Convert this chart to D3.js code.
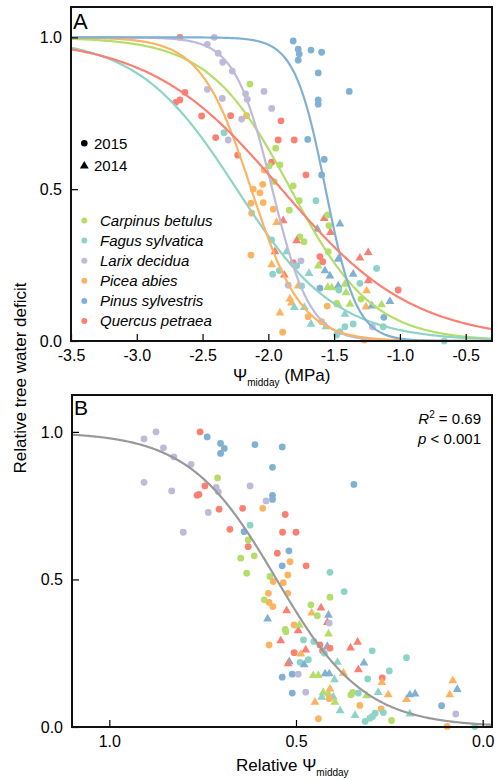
<!DOCTYPE html>
<html>
<head>
<meta charset="utf-8">
<script src="https://cdn.jsdelivr.net/npm/d3@7"></script>
<style>
  body { margin: 0; background: #fff; }
  svg { display: block; font-family: "Liberation Sans", Arial, Helvetica, sans-serif; }
</style>
</head>
<body>
<svg id="chart"></svg>
<script>
const W = 497, H = 780;

// species, colours and fitted sigmoid parameters (Psi at 50 % deficit, slope)
const species = ["Carpinus betulus", "Fagus sylvatica", "Larix decidua", "Picea abies", "Pinus sylvestris", "Quercus petraea"];
const codes = ["C", "F", "L", "P", "S", "Q"];
const colors = ["#b3de69", "#8dd3c7", "#bebada", "#fdb462", "#80b1d3", "#fb8072"];
const fitMid = [-1.83, -2.24, -1.97, -2.13, -1.565, -1.90];
const fitSlope = [3.2, 2.65, 7.0, 5.2, 8.5, 2.0];
const pooledMid = 0.552, pooledSlope = 8.5;
const years = ["2015", "2014"];

const xTicksA = [-3.5, -3.0, -2.5, -2.0, -1.5, -1.0, -0.5];
const yTicks = [0, 0.5, 1.0];
const xTicksB = [1.0, 0.5, 0.0];

// panel A: [species, year (15 = circle, 14 = triangle), Psi midday (MPa), relative deficit]
const pointsA = [
  ["Q",15,-2.672,1.000],["L",15,-2.411,1.000],["L",15,-2.464,0.977],["L",15,-2.381,0.948],
  ["L",15,-2.347,0.918],["L",15,-2.274,0.889],["C",15,-2.140,0.846],["L",15,-2.464,0.829],
  ["L",15,-2.350,0.799],["L",15,-2.173,0.814],["L",15,-2.160,0.796],["L",15,-2.033,0.822],
  ["L",15,-1.975,0.766],["L",15,-2.203,0.731],["Q",15,-2.634,0.819],["Q",15,-2.672,0.794],
  ["Q",15,-2.704,0.786],["Q",15,-2.507,0.741],["Q",15,-2.286,0.742],["P",15,-2.165,0.742],
  ["F",15,-2.337,0.686],["Q",15,-2.400,0.670],["L",15,-2.305,0.662],["Q",15,-2.233,0.612],
  ["S",15,-1.811,0.988],["S",15,-1.773,0.961],["S",15,-1.765,0.945],["S",15,-1.773,0.925],
  ["S",15,-1.676,0.958],["S",15,-1.595,0.951],["S",15,-1.621,0.883],["S",15,-1.385,0.822],
  ["S",15,-1.621,0.794],["S",15,-1.621,0.780],["Q",15,-1.904,0.725],["Q",15,-1.925,0.662],
  ["Q",15,-1.803,0.662],["S",15,-1.701,0.664],["C",15,-1.944,0.635],["Q",15,-1.975,0.589],
  ["C",15,-1.912,0.580],["P",15,-2.031,0.563],["C",15,-1.993,0.577],["S",15,-1.575,0.598],
  ["S",15,-1.595,0.547],["Q",15,-1.714,0.547],["C",15,-1.955,0.525],["P",15,-2.043,0.516],
  ["C",15,-1.811,0.511],["P",15,-2.115,0.500],["P",15,-2.064,0.488],["P",15,-2.132,0.454],
  ["P",15,-2.039,0.456],["P",15,-2.127,0.421],["P",15,-1.963,0.434],["P",15,-2.132,0.283],
  ["P",15,-1.891,0.029],["P",14,-1.937,0.393],["Q",14,-1.887,0.399],["C",15,-1.841,0.431],
  ["C",15,-1.729,0.327],["C",15,-1.760,0.343],["Q",14,-1.785,0.333],["C",15,-1.765,0.462],
  ["F",15,-1.638,0.462],["F",15,-1.975,0.333],["Q",14,-1.950,0.297],["F",14,-1.861,0.297],
  ["P",14,-1.975,0.254],["Q",15,-1.811,0.258],["L",15,-1.752,0.264],["F",15,-1.785,0.248],
  ["C",14,-1.621,0.250],["F",15,-1.967,0.220],["F",15,-1.917,0.232],["Q",14,-1.879,0.220],
  ["L",15,-1.849,0.184],["P",14,-1.773,0.184],["F",15,-1.747,0.181],["F",14,-1.691,0.225],
  ["P",14,-1.836,0.141],["P",14,-1.824,0.128],["F",14,-1.803,0.113],["F",14,-1.727,0.113],
  ["P",14,-1.912,0.095],["P",15,-1.697,0.080],["P",15,-1.595,0.064],["F",14,-1.676,0.058],
  ["F",14,-1.562,0.050],["Q",14,-1.575,0.406],["C",15,-1.549,0.415],["S",14,-1.628,0.371],
  ["Q",14,-1.527,0.360],["S",14,-1.456,0.388],["C",15,-1.540,0.380],["C",15,-1.545,0.294],
  ["Q",15,-1.608,0.278],["Q",15,-1.587,0.261],["Q",14,-1.304,0.276],["Q",14,-1.241,0.294],
  ["F",15,-1.177,0.239],["S",14,-1.570,0.234],["S",14,-1.532,0.217],["S",14,-1.469,0.272],
  ["S",14,-1.355,0.223],["Q",14,-1.241,0.201],["F",15,-1.304,0.190],["Q",15,-1.013,0.168],
  ["C",14,-1.549,0.179],["C",14,-1.517,0.178],["C",14,-1.418,0.190],["C",14,-1.410,0.162],
  ["S",15,-1.608,0.174],["S",14,-1.469,0.184],["F",15,-1.464,0.168],["P",14,-1.253,0.168],
  ["C",15,-1.296,0.138],["C",14,-1.380,0.124],["C",14,-1.469,0.122],["C",15,-1.481,0.124],
  ["P",14,-1.258,0.115],["S",14,-1.213,0.118],["S",14,-1.076,0.133],["C",14,-1.139,0.122],
  ["P",15,-1.552,0.115],["F",14,-1.418,0.091],["S",15,-1.122,0.078],["F",15,-1.355,0.056],
  ["L",15,-1.209,0.047],["F",15,-1.127,0.047],["F",15,-1.418,0.047],["F",15,-1.456,0.031],
  ["F",15,-1.481,0.020],["P",15,-1.271,0.003],["F",15,-0.663,0.000]
];

// panel B: [species, year, relative Psi midday, relative deficit]
const pointsB = [
  ["L",15,0.907,0.976],["L",15,0.875,1.000],["L",15,0.855,0.946],["L",15,0.827,0.915],
  ["L",15,0.781,0.890],["L",15,0.907,0.829],["L",15,0.833,0.800],["L",15,0.802,0.660],
  ["L",15,0.735,0.727],["L",15,0.714,0.812],["L",15,0.708,0.797],["Q",15,0.757,1.000],
  ["S",15,0.738,0.983],["S",15,0.702,0.961],["S",15,0.692,0.944],["S",15,0.702,0.927],
  ["C",15,0.710,0.844],["Q",15,0.744,0.817],["Q",15,0.760,0.788],["Q",15,0.765,0.785],
  ["Q",15,0.706,0.738],["Q",15,0.677,0.670],["Q",15,0.643,0.741],["S",15,0.639,0.662],
  ["F",15,0.623,0.684],["C",15,0.628,0.634],["Q",15,0.628,0.611],["C",15,0.648,0.572],
  ["C",15,0.632,0.521],["L",15,0.623,0.817],["S",15,0.610,0.957],["S",15,0.537,0.949],
  ["S",15,0.563,0.880],["S",15,0.345,0.822],["S",15,0.563,0.785],["S",15,0.563,0.771],
  ["L",15,0.580,0.766],["P",15,0.589,0.741],["Q",15,0.529,0.720],["Q",15,0.536,0.660],
  ["Q",15,0.500,0.660],["C",15,0.612,0.580],["Q",15,0.550,0.589],["S",15,0.519,0.597],
  ["P",15,0.516,0.560],["S",15,0.537,0.546],["Q",15,0.473,0.546],["F",15,0.409,0.524],
  ["P",15,0.522,0.515],["C",15,0.570,0.510],["P",15,0.561,0.493],["P",15,0.534,0.489],
  ["F",15,0.371,0.459],["C",15,0.409,0.440],["P",15,0.574,0.453],["P",15,0.522,0.453],
  ["C",15,0.585,0.431],["P",15,0.572,0.422],["P",15,0.562,0.408],["C",15,0.460,0.414],
  ["Q",14,0.525,0.397],["P",14,0.458,0.389],["Q",14,0.433,0.406],["C",15,0.443,0.377],
  ["S",14,0.576,0.369],["S",14,0.413,0.382],["Q",14,0.416,0.357],["L",15,0.411,0.352],
  ["P",15,0.505,0.346],["C",15,0.529,0.331],["C",15,0.527,0.323],["Q",14,0.494,0.329],
  ["C",14,0.491,0.348],["C",14,0.413,0.318],["F",15,0.480,0.295],["Q",14,0.541,0.295],
  ["P",15,0.572,0.278],["F",15,0.452,0.290],["Q",14,0.474,0.264],["P",14,0.487,0.250],
  ["Q",15,0.505,0.252],["Q",15,0.436,0.278],["Q",15,0.429,0.258],["S",14,0.416,0.276],
  ["Q",15,0.409,0.267],["F",15,0.424,0.250],["Q",14,0.354,0.271],["Q",14,0.335,0.290],
  ["F",15,0.296,0.258],["F",15,0.204,0.235],["S",14,0.518,0.224],["Q",14,0.521,0.217],
  ["F",15,0.489,0.219],["F",15,0.467,0.228],["S",14,0.478,0.214],["F",14,0.389,0.222],
  ["P",14,0.373,0.185],["S",14,0.422,0.183],["S",14,0.411,0.183],["C",14,0.454,0.177],
  ["C",14,0.440,0.177],["F",14,0.397,0.163],["Q",14,0.333,0.197],["S",14,0.318,0.220],
  ["F",15,0.250,0.190],["S",15,0.537,0.169],["S",15,0.510,0.179],["L",15,0.494,0.179],
  ["F",15,0.308,0.163],["Q",15,0.269,0.166],["P",14,0.270,0.154],["S",15,0.510,0.115],
  ["L",15,0.474,0.118],["C",14,0.427,0.120],["C",14,0.413,0.115],["P",14,0.409,0.132],
  ["F",14,0.431,0.104],["F",14,0.400,0.104],["P",15,0.411,0.096],["C",14,0.396,0.087],
  ["P",14,0.449,0.087],["C",15,0.353,0.109],["C",15,0.348,0.117],["F",15,0.333,0.115],
  ["C",14,0.311,0.109],["F",14,0.280,0.120],["P",14,0.253,0.112],["P",14,0.204,0.096],
  ["S",14,0.195,0.112],["S",14,0.181,0.115],["P",14,0.080,0.160],["S",14,0.068,0.130],
  ["P",14,0.088,0.112],["S",15,0.110,0.072],["L",15,0.072,0.044],["P",15,0.329,0.073],
  ["P",15,0.272,0.061],["F",14,0.382,0.058],["F",14,0.342,0.042],["F",15,0.288,0.047],
  ["F",15,0.295,0.036],["F",15,0.315,0.019],["F",15,0.302,0.030],["F",15,0.266,0.049],
  ["C",15,0.244,0.022],["F",14,0.195,0.047],["P",15,0.440,0.028],["P",15,0.095,0.002],
  ["F",15,0.021,0.002]
];

const colorOf = d3.scaleOrdinal().domain(codes).range(colors);
const logistic = (x, mid, s) => 1 / (1 + Math.exp(s * (x - mid)));
const fmt = d => d.toFixed(1); // plain hyphen minus, as in the figure

const svg = d3.select("#chart")
  .attr("width", W)
  .attr("height", H)
  .attr("viewBox", `0 0 ${W} ${H}`);

const xA = d3.scaleLinear().domain([-3.5, -0.3]).range([71, 492]);
const yA = d3.scaleLinear().domain([0, 1.1]).range([341, 7]);
const xB = d3.scaleLinear().domain([1.1, -0.025]).range([72, 492]);
const yB = d3.scaleLinear().domain([0, 1.125]).range([727, 395]);

const tri = d3.symbol().type(d3.symbolTriangle).size(34);

function drawPoints(g, data, x, y) {
  data.forEach(([sp, yr, vx, vy]) => {
    if (yr === 15) {
      g.append("circle")
        .attr("cx", x(vx)).attr("cy", y(vy)).attr("r", 3.4)
        .attr("fill", colorOf(sp));
    } else {
      g.append("path")
        .attr("d", tri())
        .attr("transform", `translate(${x(vx)},${y(vy) + 0.8})`)
        .attr("fill", colorOf(sp));
    }
  });
}

function drawAxes(x, y, xTicks) {
  const ax = svg.append("g")
    .attr("transform", `translate(0,${y.range()[0]})`)
    .call(d3.axisBottom(x).tickValues(xTicks).tickFormat(fmt)
      .tickSizeInner(-7).tickSizeOuter(0).tickPadding(9));
  const ay = svg.append("g")
    .attr("transform", `translate(${x.range()[0]},0)`)
    .call(d3.axisLeft(y).tickValues(yTicks).tickFormat(fmt)
      .tickSizeInner(-7).tickSizeOuter(0).tickPadding(9));
  [ax, ay].forEach(a => {
    a.select(".domain").remove();
    a.selectAll(".tick line").attr("stroke", "#000").attr("stroke-width", 1.2);
    a.selectAll(".tick text").attr("fill", "#000")
      .style("font-size", "16px").style("font-family", "'Liberation Sans', Arial, sans-serif");
  });
  svg.append("rect")
    .attr("x", x.range()[0]).attr("y", y.range()[1])
    .attr("width", x.range()[1] - x.range()[0])
    .attr("height", y.range()[0] - y.range()[1])
    .attr("fill", "none").attr("stroke", "#111").attr("stroke-width", 2);
}

// ---- Panel A ----
const gA = svg.append("g");
drawPoints(gA, pointsA, xA, yA);

const grid = d3.range(0, 401).map(i => -3.5 + i * 3.2 / 400);
const lineA = d3.line().x(d => xA(d[0])).y(d => yA(d[1]));
species.forEach((s, i) => {
  gA.append("path")
    .datum(grid.map(v => [v, logistic(v, fitMid[i], fitSlope[i])]))
    .attr("d", lineA)
    .attr("fill", "none")
    .attr("stroke", colors[i])
    .attr("stroke-width", 2.2);
});

drawAxes(xA, yA, xTicksA);

svg.append("text").attr("x", 73).attr("y", 28.5)
  .style("font-size", "22px").text("A");

// year legend
svg.append("circle").attr("cx", 84.3).attr("cy", 143.3).attr("r", 3.3).attr("fill", "#000");
svg.append("path").attr("d", tri()).attr("transform", "translate(84.3,166)").attr("fill", "#000");
years.forEach((yr, i) => {
  svg.append("text").attr("x", 94).attr("y", 148.5 + i * 22.3)
    .style("font-size", "15px").text(yr);
});

// species legend
species.forEach((s, i) => {
  const cy = 220.5 + i * 20.1;
  svg.append("circle").attr("cx", 84.3).attr("cy", cy).attr("r", 3).attr("fill", colors[i]);
  svg.append("text").attr("x", 100).attr("y", cy + 5.3)
    .style("font-size", "15px").style("font-style", "italic").text(s);
});

// x label A
const labA = svg.append("text").attr("x", 233).attr("y", 381).style("font-size", "17px");
labA.append("tspan").text("\u03A8");
labA.append("tspan").attr("dy", 5).style("font-size", "10px").text("midday");
labA.append("tspan").attr("dy", -5).text(" (MPa)");

// ---- Panel B ----
const gB = svg.append("g");
drawPoints(gB, pointsB, xB, yB);

const gridB = d3.range(0, 401).map(i => 1.1 - i * 1.125 / 400);
gB.append("path")
  .datum(gridB.map(v => [v, logistic(-v, -pooledMid, pooledSlope)]))
  .attr("d", d3.line().x(d => xB(d[0])).y(d => yB(d[1])))
  .attr("fill", "none")
  .attr("stroke", "#999")
  .attr("stroke-width", 2.2);

drawAxes(xB, yB, xTicksB);

svg.append("text").attr("x", 74).attr("y", 415)
  .style("font-size", "21px").text("B");

const r2 = svg.append("text").attr("x", 481).attr("y", 424)
  .attr("text-anchor", "end").style("font-size", "15px");
r2.append("tspan").style("font-style", "italic").text("R");
r2.append("tspan").attr("dy", -6).style("font-size", "10px").text("2");
r2.append("tspan").attr("dy", 6).text(" = 0.69");

const pv = svg.append("text").attr("x", 481).attr("y", 444)
  .attr("text-anchor", "end").style("font-size", "15px");
pv.append("tspan").style("font-style", "italic").text("p");
pv.append("tspan").text(" < 0.001");

const labB = svg.append("text").attr("x", 236).attr("y", 771).style("font-size", "17px");
labB.append("tspan").text("Relative \u03A8");
labB.append("tspan").attr("dy", 5).style("font-size", "10px").text("midday");

// shared y label
svg.append("text")
  .attr("transform", "translate(26,378) rotate(-90)")
  .attr("text-anchor", "middle")
  .style("font-size", "17px")
  .text("Relative tree water deficit");
</script>
</body>
</html>
